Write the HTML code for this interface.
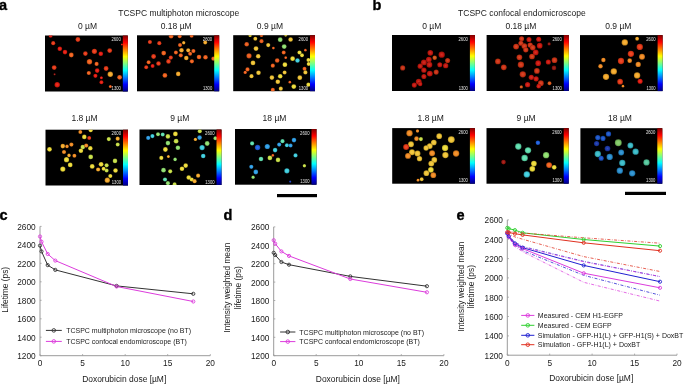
<!DOCTYPE html>
<html><head><meta charset="utf-8"><title>Figure</title>
<style>html,body{margin:0;padding:0;background:#fff;width:685px;height:384px;overflow:hidden}svg{display:block;will-change:transform}</style>
</head><body>
<svg width="685" height="384" viewBox="0 0 685 384" font-family='"Liberation Sans", sans-serif'>
<defs>
<linearGradient id="jet" x1="0" y1="0" x2="0" y2="1">
<stop offset="0" stop-color="#800000"/>
<stop offset="0.125" stop-color="#ff0000"/>
<stop offset="0.25" stop-color="#ff8000"/>
<stop offset="0.375" stop-color="#ffff00"/>
<stop offset="0.5" stop-color="#80ff80"/>
<stop offset="0.625" stop-color="#00ffff"/>
<stop offset="0.75" stop-color="#0080ff"/>
<stop offset="0.875" stop-color="#0000ff"/>
<stop offset="1" stop-color="#000080"/>
</linearGradient>
<radialGradient id="g1c39ac"><stop offset="0" stop-color="#3750b5"/><stop offset="0.6" stop-color="#1c39ac"/><stop offset="1" stop-color="#14297b"/></radialGradient>
<radialGradient id="g1c56c9"><stop offset="0" stop-color="#376acf"/><stop offset="0.6" stop-color="#1c56c9"/><stop offset="1" stop-color="#143d90"/></radialGradient>
<radialGradient id="g2040c0"><stop offset="0" stop-color="#3a56c7"/><stop offset="0.6" stop-color="#2040c0"/><stop offset="1" stop-color="#172e8a"/></radialGradient>
<radialGradient id="g2060e0"><stop offset="0" stop-color="#3a73e3"/><stop offset="0.6" stop-color="#2060e0"/><stop offset="1" stop-color="#1745a1"/></radialGradient>
<radialGradient id="g2b90d0"><stop offset="0" stop-color="#449dd5"/><stop offset="0.6" stop-color="#2b90d0"/><stop offset="1" stop-color="#1e6795"/></radialGradient>
<radialGradient id="g30a0e8"><stop offset="0" stop-color="#48abea"/><stop offset="0.6" stop-color="#30a0e8"/><stop offset="1" stop-color="#2273a7"/></radialGradient>
<radialGradient id="g39bbc9"><stop offset="0" stop-color="#50c3cf"/><stop offset="0.6" stop-color="#39bbc9"/><stop offset="1" stop-color="#298690"/></radialGradient>
<radialGradient id="g40d0e0"><stop offset="0" stop-color="#56d5e3"/><stop offset="0.6" stop-color="#40d0e0"/><stop offset="1" stop-color="#2e95a1"/></radialGradient>
<radialGradient id="g56c99e"><stop offset="0" stop-color="#6acfa9"/><stop offset="0.6" stop-color="#56c99e"/><stop offset="1" stop-color="#3d9071"/></radialGradient>
<radialGradient id="g60e0b0"><stop offset="0" stop-color="#73e3b9"/><stop offset="0.6" stop-color="#60e0b0"/><stop offset="1" stop-color="#45a17e"/></radialGradient>
<radialGradient id="g81c964"><stop offset="0" stop-color="#90cf76"/><stop offset="0.6" stop-color="#81c964"/><stop offset="1" stop-color="#5c9048"/></radialGradient>
<radialGradient id="g90150e"><stop offset="0" stop-color="#9d312a"/><stop offset="0.6" stop-color="#90150e"/><stop offset="1" stop-color="#670f0a"/></radialGradient>
<radialGradient id="g90e070"><stop offset="0" stop-color="#9de381"/><stop offset="0.6" stop-color="#90e070"/><stop offset="1" stop-color="#67a150"/></radialGradient>
<radialGradient id="ga01810"><stop offset="0" stop-color="#ab332c"/><stop offset="0.6" stop-color="#a01810"/><stop offset="1" stop-color="#73110b"/></radialGradient>
<radialGradient id="gc4180f"><stop offset="0" stop-color="#cb332b"/><stop offset="0.6" stop-color="#c4180f"/><stop offset="1" stop-color="#8d110a"/></radialGradient>
<radialGradient id="gc73114"><stop offset="0" stop-color="#cd4930"/><stop offset="0.6" stop-color="#c73114"/><stop offset="1" stop-color="#8f230e"/></radialGradient>
<radialGradient id="gc8e048"><stop offset="0" stop-color="#cee35d"/><stop offset="0.6" stop-color="#c8e048"/><stop offset="1" stop-color="#90a133"/></radialGradient>
<radialGradient id="gcd1910"><stop offset="0" stop-color="#d3342c"/><stop offset="0.6" stop-color="#cd1910"/><stop offset="1" stop-color="#93120b"/></radialGradient>
<radialGradient id="gd03415"><stop offset="0" stop-color="#d54c31"/><stop offset="0.6" stop-color="#d03415"/><stop offset="1" stop-color="#95250f"/></radialGradient>
<radialGradient id="gd05419"><stop offset="0" stop-color="#d56834"/><stop offset="0.6" stop-color="#d05419"/><stop offset="1" stop-color="#953c12"/></radialGradient>
<radialGradient id="gd9581b"><stop offset="0" stop-color="#dd6c36"/><stop offset="0.6" stop-color="#d9581b"/><stop offset="1" stop-color="#9c3f13"/></radialGradient>
<radialGradient id="ge41c12"><stop offset="0" stop-color="#e7372e"/><stop offset="0.6" stop-color="#e41c12"/><stop offset="1" stop-color="#a4140c"/></radialGradient>
<radialGradient id="ge83a18"><stop offset="0" stop-color="#ea5133"/><stop offset="0.6" stop-color="#e83a18"/><stop offset="1" stop-color="#a72911"/></radialGradient>
<radialGradient id="gea5c1e"><stop offset="0" stop-color="#ec6f39"/><stop offset="0.6" stop-color="#ea5c1e"/><stop offset="1" stop-color="#a84215"/></radialGradient>
<radialGradient id="geedc3a"><stop offset="0" stop-color="#f0e051"/><stop offset="0.6" stop-color="#eedc3a"/><stop offset="1" stop-color="#ab9e29"/></radialGradient>
<radialGradient id="gf0c436"><stop offset="0" stop-color="#f1cb4e"/><stop offset="0.6" stop-color="#f0c436"/><stop offset="1" stop-color="#ac8d26"/></radialGradient>
<radialGradient id="gf2621e"><stop offset="0" stop-color="#f37439"/><stop offset="0.6" stop-color="#f2621e"/><stop offset="1" stop-color="#ae4615"/></radialGradient>
<radialGradient id="gf28c24"><stop offset="0" stop-color="#f3993e"/><stop offset="0.6" stop-color="#f28c24"/><stop offset="1" stop-color="#ae6419"/></radialGradient>
<radialGradient id="gf5aa2c"><stop offset="0" stop-color="#f6b445"/><stop offset="0.6" stop-color="#f5aa2c"/><stop offset="1" stop-color="#b07a1f"/></radialGradient>
<filter id="blur" x="-20%" y="-20%" width="140%" height="140%"><feGaussianBlur stdDeviation="0.55"/></filter>
</defs>
<style>
text{font-family:"Liberation Sans",sans-serif}
.cb{font-size:4.6px;fill:#e4e4e4;text-anchor:end}
.lab{font-size:8.5px;fill:#1a1a1a;text-anchor:middle}
</style>
<rect width="685" height="384" fill="#fff"/>
<rect x="45.0" y="35.5" width="82.8" height="56.0" fill="#000"/>
<clipPath id="cpa1"><rect x="45.0" y="35.5" width="82.8" height="56.0"/></clipPath>
<g clip-path="url(#cpa1)"><g filter="url(#blur)">
<circle cx="50.6" cy="35.7" r="2.00" fill="url(#ge41c12)"/>
<circle cx="53.2" cy="43.2" r="2.10" fill="url(#ge83a18)"/>
<circle cx="77.9" cy="39.5" r="2.40" fill="url(#ge83a18)"/>
<circle cx="59.8" cy="48.8" r="2.30" fill="url(#ge41c12)"/>
<circle cx="65.0" cy="52.1" r="2.30" fill="url(#ge41c12)"/>
<circle cx="71.3" cy="55.0" r="2.40" fill="url(#gf2621e)"/>
<circle cx="85.4" cy="53.6" r="2.30" fill="url(#ge83a18)"/>
<circle cx="94.4" cy="51.3" r="2.60" fill="url(#ge83a18)"/>
<circle cx="100.8" cy="53.8" r="2.30" fill="url(#ge41c12)"/>
<circle cx="109.7" cy="50.6" r="2.40" fill="url(#ge83a18)"/>
<circle cx="89.5" cy="61.7" r="2.70" fill="url(#gf2621e)"/>
<circle cx="96.6" cy="63.9" r="2.10" fill="url(#gf2621e)"/>
<circle cx="54.2" cy="67.6" r="2.40" fill="url(#ge83a18)"/>
<circle cx="54.6" cy="74.3" r="1.10" fill="url(#ga01810)"/>
<circle cx="97.2" cy="70.6" r="2.30" fill="url(#ge41c12)"/>
<circle cx="106.1" cy="68.5" r="2.40" fill="url(#ge83a18)"/>
<circle cx="88.8" cy="73.0" r="2.10" fill="url(#gf2621e)"/>
<circle cx="95.4" cy="75.8" r="2.10" fill="url(#ge41c12)"/>
<circle cx="110.3" cy="74.3" r="2.70" fill="url(#gf5aa2c)"/>
<circle cx="119.6" cy="77.3" r="2.40" fill="url(#gf2621e)"/>
<circle cx="101.4" cy="77.7" r="1.50" fill="url(#ge41c12)"/>
<circle cx="101.4" cy="82.2" r="2.00" fill="url(#ge41c12)"/>
<circle cx="57.2" cy="84.7" r="2.70" fill="url(#ge41c12)"/>
<circle cx="110.3" cy="86.5" r="1.50" fill="url(#gf2621e)"/>
<circle cx="121.9" cy="44.6" r="1.00" fill="url(#ge41c12)"/>
</g></g>
<rect x="122.8" y="35.5" width="5.0" height="56.0" fill="url(#jet)"/>
<text x="120.8" y="41.1" class="cb" textLength="9.4" lengthAdjust="spacingAndGlyphs">2600</text>
<text x="120.8" y="90.1" class="cb" textLength="9.2" lengthAdjust="spacingAndGlyphs">1300</text>
<rect x="137.0" y="35.3" width="82.2" height="56.0" fill="#000"/>
<clipPath id="cpa2"><rect x="137.0" y="35.3" width="82.2" height="56.0"/></clipPath>
<g clip-path="url(#cpa2)"><g filter="url(#blur)">
<circle cx="171.1" cy="36.2" r="2.30" fill="url(#gf2621e)"/>
<circle cx="179.7" cy="36.2" r="2.00" fill="url(#gf2621e)"/>
<circle cx="191.6" cy="35.7" r="2.00" fill="url(#gf2621e)"/>
<circle cx="149.9" cy="42.0" r="2.10" fill="url(#ge83a18)"/>
<circle cx="159.3" cy="43.2" r="2.10" fill="url(#ge83a18)"/>
<circle cx="180.0" cy="45.1" r="2.00" fill="url(#gf2621e)"/>
<circle cx="183.7" cy="42.7" r="1.70" fill="url(#gf5aa2c)"/>
<circle cx="205.2" cy="42.4" r="2.00" fill="url(#gf5aa2c)"/>
<circle cx="163.7" cy="53.1" r="2.40" fill="url(#gf2621e)"/>
<circle cx="175.9" cy="52.4" r="2.00" fill="url(#gf2621e)"/>
<circle cx="181.5" cy="50.3" r="2.30" fill="url(#gf5aa2c)"/>
<circle cx="188.2" cy="50.3" r="2.10" fill="url(#gf5aa2c)"/>
<circle cx="193.4" cy="51.0" r="2.10" fill="url(#gf2621e)"/>
<circle cx="190.1" cy="53.8" r="2.00" fill="url(#gf2621e)"/>
<circle cx="153.6" cy="56.5" r="2.40" fill="url(#ge83a18)"/>
<circle cx="170.8" cy="57.6" r="2.10" fill="url(#ge83a18)"/>
<circle cx="180.8" cy="55.3" r="2.10" fill="url(#gf2621e)"/>
<circle cx="186.3" cy="58.0" r="2.30" fill="url(#gf5aa2c)"/>
<circle cx="199.0" cy="57.0" r="2.30" fill="url(#gf2621e)"/>
<circle cx="205.5" cy="57.3" r="2.30" fill="url(#gf2621e)"/>
<circle cx="213.4" cy="58.7" r="2.10" fill="url(#gf2621e)"/>
<circle cx="148.6" cy="62.2" r="2.00" fill="url(#gf2621e)"/>
<circle cx="158.5" cy="63.5" r="2.30" fill="url(#ge83a18)"/>
<circle cx="168.5" cy="61.4" r="2.30" fill="url(#ge83a18)"/>
<circle cx="191.9" cy="61.3" r="2.10" fill="url(#gf2621e)"/>
<circle cx="152.6" cy="65.9" r="2.00" fill="url(#ge41c12)"/>
<circle cx="146.2" cy="67.2" r="2.00" fill="url(#ge83a18)"/>
<circle cx="164.9" cy="75.4" r="2.40" fill="url(#gf2621e)"/>
<circle cx="178.2" cy="73.9" r="2.30" fill="url(#gf5aa2c)"/>
</g></g>
<rect x="214.2" y="35.3" width="5.0" height="56.0" fill="url(#jet)"/>
<text x="212.2" y="40.9" class="cb" textLength="9.4" lengthAdjust="spacingAndGlyphs">2600</text>
<text x="212.2" y="89.9" class="cb" textLength="9.2" lengthAdjust="spacingAndGlyphs">1300</text>
<rect x="233.2" y="35.2" width="81.8" height="56.0" fill="#000"/>
<clipPath id="cpa3"><rect x="233.2" y="35.2" width="81.8" height="56.0"/></clipPath>
<g clip-path="url(#cpa3)"><g filter="url(#blur)">
<circle cx="250.1" cy="35.4" r="1.70" fill="url(#geedc3a)"/>
<circle cx="261.5" cy="35.4" r="1.70" fill="url(#gf2621e)"/>
<circle cx="285.7" cy="35.3" r="1.40" fill="url(#geedc3a)"/>
<circle cx="255.3" cy="38.7" r="2.00" fill="url(#gf0c436)"/>
<circle cx="261.5" cy="41.2" r="2.10" fill="url(#gea5c1e)"/>
<circle cx="280.2" cy="39.7" r="2.40" fill="url(#g90e070)"/>
<circle cx="290.6" cy="39.5" r="2.30" fill="url(#gf0c436)"/>
<circle cx="246.7" cy="44.2" r="2.30" fill="url(#gea5c1e)"/>
<circle cx="268.2" cy="45.1" r="2.10" fill="url(#gf0c436)"/>
<circle cx="284.2" cy="46.6" r="2.40" fill="url(#g90e070)"/>
<circle cx="273.4" cy="48.1" r="1.40" fill="url(#gf2621e)"/>
<circle cx="256.0" cy="48.6" r="2.40" fill="url(#gf0c436)"/>
<circle cx="283.7" cy="52.5" r="2.00" fill="url(#gf2621e)"/>
<circle cx="305.4" cy="50.2" r="1.40" fill="url(#gea5c1e)"/>
<circle cx="299.5" cy="52.5" r="2.10" fill="url(#geedc3a)"/>
<circle cx="302.0" cy="55.3" r="2.00" fill="url(#geedc3a)"/>
<circle cx="249.0" cy="55.8" r="2.60" fill="url(#gea5c1e)"/>
<circle cx="258.2" cy="56.2" r="2.30" fill="url(#gf0c436)"/>
<circle cx="285.7" cy="57.7" r="1.40" fill="url(#gf2621e)"/>
<circle cx="292.6" cy="58.7" r="2.40" fill="url(#geedc3a)"/>
<circle cx="297.5" cy="60.5" r="2.30" fill="url(#g40d0e0)"/>
<circle cx="277.2" cy="60.5" r="2.30" fill="url(#gea5c1e)"/>
<circle cx="308.4" cy="59.9" r="2.00" fill="url(#geedc3a)"/>
<circle cx="253.0" cy="62.9" r="2.40" fill="url(#gf0c436)"/>
<circle cx="284.9" cy="64.7" r="2.40" fill="url(#geedc3a)"/>
<circle cx="272.8" cy="65.7" r="2.10" fill="url(#gf2621e)"/>
<circle cx="308.7" cy="63.9" r="2.00" fill="url(#geedc3a)"/>
<circle cx="247.5" cy="69.4" r="2.10" fill="url(#gf2621e)"/>
<circle cx="245.2" cy="72.4" r="1.70" fill="url(#gf2621e)"/>
<circle cx="258.5" cy="72.8" r="2.30" fill="url(#gf0c436)"/>
<circle cx="284.6" cy="72.4" r="2.00" fill="url(#gf0c436)"/>
<circle cx="304.5" cy="68.8" r="2.00" fill="url(#gf2621e)"/>
<circle cx="305.4" cy="72.4" r="2.10" fill="url(#gf0c436)"/>
<circle cx="251.5" cy="76.2" r="2.10" fill="url(#gf0c436)"/>
<circle cx="271.9" cy="77.6" r="2.30" fill="url(#gf0c436)"/>
<circle cx="280.2" cy="76.2" r="2.30" fill="url(#geedc3a)"/>
<circle cx="299.8" cy="77.7" r="2.40" fill="url(#gf0c436)"/>
<circle cx="277.8" cy="81.7" r="2.30" fill="url(#gf0c436)"/>
<circle cx="289.8" cy="82.2" r="1.40" fill="url(#gf2621e)"/>
<circle cx="293.8" cy="86.6" r="2.40" fill="url(#geedc3a)"/>
<circle cx="308.4" cy="84.7" r="2.10" fill="url(#geedc3a)"/>
<circle cx="272.8" cy="89.9" r="2.10" fill="url(#gf2621e)"/>
<circle cx="280.8" cy="88.7" r="2.10" fill="url(#gf0c436)"/>
</g></g>
<rect x="310.0" y="35.2" width="5.0" height="56.0" fill="url(#jet)"/>
<text x="308.0" y="40.8" class="cb" textLength="9.4" lengthAdjust="spacingAndGlyphs">2600</text>
<text x="308.0" y="89.8" class="cb" textLength="9.2" lengthAdjust="spacingAndGlyphs">1300</text>
<rect x="45.5" y="129.7" width="82.5" height="55.8" fill="#000"/>
<clipPath id="cpa4"><rect x="45.5" y="129.7" width="82.5" height="55.8"/></clipPath>
<g clip-path="url(#cpa4)"><g filter="url(#blur)">
<circle cx="80.3" cy="132.0" r="2.00" fill="url(#gf28c24)"/>
<circle cx="90.7" cy="130.2" r="2.10" fill="url(#geedc3a)"/>
<circle cx="84.3" cy="136.9" r="2.30" fill="url(#geedc3a)"/>
<circle cx="89.2" cy="137.9" r="2.00" fill="url(#ge83a18)"/>
<circle cx="108.8" cy="139.1" r="2.10" fill="url(#gc8e048)"/>
<circle cx="117.7" cy="138.7" r="2.10" fill="url(#gf5aa2c)"/>
<circle cx="49.5" cy="149.3" r="2.40" fill="url(#geedc3a)"/>
<circle cx="62.8" cy="146.1" r="2.30" fill="url(#gf5aa2c)"/>
<circle cx="67.0" cy="146.4" r="1.80" fill="url(#gf28c24)"/>
<circle cx="71.4" cy="144.6" r="2.10" fill="url(#gf28c24)"/>
<circle cx="82.8" cy="147.1" r="2.30" fill="url(#gc8e048)"/>
<circle cx="86.2" cy="145.6" r="2.10" fill="url(#gf28c24)"/>
<circle cx="80.9" cy="150.8" r="2.30" fill="url(#geedc3a)"/>
<circle cx="90.3" cy="148.3" r="2.30" fill="url(#geedc3a)"/>
<circle cx="117.7" cy="144.6" r="2.00" fill="url(#gc8e048)"/>
<circle cx="64.0" cy="152.0" r="2.10" fill="url(#gf28c24)"/>
<circle cx="69.0" cy="155.4" r="1.80" fill="url(#gf5aa2c)"/>
<circle cx="74.4" cy="155.7" r="2.00" fill="url(#gf28c24)"/>
<circle cx="90.7" cy="156.9" r="2.40" fill="url(#gc8e048)"/>
<circle cx="66.5" cy="159.7" r="2.60" fill="url(#geedc3a)"/>
<circle cx="115.0" cy="160.9" r="2.30" fill="url(#gc8e048)"/>
<circle cx="70.2" cy="164.9" r="2.40" fill="url(#geedc3a)"/>
<circle cx="92.2" cy="166.4" r="2.40" fill="url(#geedc3a)"/>
<circle cx="101.1" cy="164.3" r="2.40" fill="url(#geedc3a)"/>
<circle cx="106.6" cy="165.3" r="2.10" fill="url(#gc8e048)"/>
<circle cx="62.8" cy="169.1" r="2.60" fill="url(#geedc3a)"/>
<circle cx="98.1" cy="169.5" r="2.10" fill="url(#gf5aa2c)"/>
<circle cx="103.6" cy="168.8" r="2.00" fill="url(#geedc3a)"/>
<circle cx="106.6" cy="170.5" r="2.00" fill="url(#gc8e048)"/>
<circle cx="115.5" cy="170.5" r="2.30" fill="url(#geedc3a)"/>
<circle cx="110.3" cy="176.0" r="2.10" fill="url(#geedc3a)"/>
<circle cx="107.3" cy="180.2" r="2.60" fill="url(#gf5aa2c)"/>
</g></g>
<rect x="123.0" y="129.7" width="5.0" height="55.8" fill="url(#jet)"/>
<text x="121.0" y="135.3" class="cb" textLength="9.4" lengthAdjust="spacingAndGlyphs">2600</text>
<text x="121.0" y="184.1" class="cb" textLength="9.2" lengthAdjust="spacingAndGlyphs">1300</text>
<rect x="139.5" y="129.5" width="82.0" height="55.5" fill="#000"/>
<clipPath id="cpa5"><rect x="139.5" y="129.5" width="82.0" height="55.5"/></clipPath>
<g clip-path="url(#cpa5)"><g filter="url(#blur)">
<circle cx="148.2" cy="137.9" r="2.10" fill="url(#g30a0e8)"/>
<circle cx="152.4" cy="136.1" r="2.10" fill="url(#g40d0e0)"/>
<circle cx="158.0" cy="134.2" r="2.00" fill="url(#g90e070)"/>
<circle cx="162.7" cy="134.5" r="2.00" fill="url(#g60e0b0)"/>
<circle cx="167.9" cy="136.4" r="2.30" fill="url(#gc8e048)"/>
<circle cx="175.4" cy="133.9" r="2.40" fill="url(#geedc3a)"/>
<circle cx="199.8" cy="131.2" r="2.10" fill="url(#gc8e048)"/>
<circle cx="195.4" cy="139.4" r="1.70" fill="url(#gf5aa2c)"/>
<circle cx="199.6" cy="137.6" r="2.30" fill="url(#g30a0e8)"/>
<circle cx="215.4" cy="138.2" r="2.00" fill="url(#g90e070)"/>
<circle cx="167.9" cy="143.1" r="2.30" fill="url(#g90e070)"/>
<circle cx="176.1" cy="141.2" r="2.40" fill="url(#gc8e048)"/>
<circle cx="207.2" cy="143.5" r="2.40" fill="url(#g90e070)"/>
<circle cx="202.1" cy="147.6" r="2.60" fill="url(#g40d0e0)"/>
<circle cx="177.9" cy="147.8" r="2.30" fill="url(#g90e070)"/>
<circle cx="165.4" cy="149.5" r="2.40" fill="url(#geedc3a)"/>
<circle cx="161.3" cy="157.9" r="2.10" fill="url(#geedc3a)"/>
<circle cx="168.4" cy="156.5" r="1.50" fill="url(#gf5aa2c)"/>
<circle cx="175.1" cy="159.4" r="1.80" fill="url(#g90e070)"/>
<circle cx="203.2" cy="156.0" r="2.30" fill="url(#g40d0e0)"/>
<circle cx="185.7" cy="165.6" r="2.30" fill="url(#geedc3a)"/>
<circle cx="182.0" cy="168.8" r="2.30" fill="url(#geedc3a)"/>
<circle cx="163.5" cy="170.2" r="2.40" fill="url(#g90e070)"/>
<circle cx="170.2" cy="171.3" r="2.10" fill="url(#gc8e048)"/>
<circle cx="198.1" cy="175.7" r="2.10" fill="url(#gf5aa2c)"/>
<circle cx="188.7" cy="177.5" r="2.30" fill="url(#geedc3a)"/>
<circle cx="191.7" cy="179.5" r="2.10" fill="url(#geedc3a)"/>
<circle cx="194.6" cy="181.2" r="2.10" fill="url(#gf5aa2c)"/>
<circle cx="165.0" cy="179.5" r="2.10" fill="url(#g60e0b0)"/>
<circle cx="167.9" cy="183.2" r="2.10" fill="url(#g90e070)"/>
<circle cx="174.6" cy="184.2" r="2.00" fill="url(#gc8e048)"/>
</g></g>
<rect x="216.5" y="129.5" width="5.0" height="55.5" fill="url(#jet)"/>
<text x="214.5" y="135.1" class="cb" textLength="9.4" lengthAdjust="spacingAndGlyphs">2600</text>
<text x="214.5" y="183.6" class="cb" textLength="9.2" lengthAdjust="spacingAndGlyphs">1300</text>
<rect x="235.0" y="129.0" width="81.5" height="55.7" fill="#000"/>
<clipPath id="cpa6"><rect x="235.0" y="129.0" width="81.5" height="55.7"/></clipPath>
<g clip-path="url(#cpa6)"><g filter="url(#blur)">
<circle cx="252.1" cy="143.4" r="2.10" fill="url(#g60e0b0)"/>
<circle cx="257.6" cy="147.5" r="2.70" fill="url(#g2060e0)"/>
<circle cx="267.3" cy="146.5" r="2.60" fill="url(#g30a0e8)"/>
<circle cx="275.1" cy="150.1" r="2.30" fill="url(#g40d0e0)"/>
<circle cx="279.2" cy="144.6" r="2.10" fill="url(#g30a0e8)"/>
<circle cx="282.5" cy="141.2" r="2.10" fill="url(#g60e0b0)"/>
<circle cx="286.9" cy="145.3" r="2.00" fill="url(#g40d0e0)"/>
<circle cx="290.6" cy="145.6" r="2.00" fill="url(#g30a0e8)"/>
<circle cx="294.0" cy="140.1" r="2.30" fill="url(#g30a0e8)"/>
<circle cx="295.5" cy="155.4" r="2.10" fill="url(#g40d0e0)"/>
<circle cx="261.0" cy="159.0" r="2.30" fill="url(#g60e0b0)"/>
<circle cx="269.9" cy="157.9" r="2.40" fill="url(#gc8e048)"/>
<circle cx="272.8" cy="155.4" r="1.40" fill="url(#gf2621e)"/>
<circle cx="278.0" cy="159.9" r="2.30" fill="url(#gc8e048)"/>
<circle cx="251.3" cy="166.8" r="2.10" fill="url(#g30a0e8)"/>
<circle cx="255.8" cy="172.0" r="2.40" fill="url(#g30a0e8)"/>
<circle cx="286.9" cy="170.8" r="2.60" fill="url(#g40d0e0)"/>
<circle cx="304.4" cy="165.8" r="1.70" fill="url(#gc8e048)"/>
<circle cx="253.1" cy="177.2" r="1.70" fill="url(#g90e070)"/>
<circle cx="290.2" cy="181.7" r="1.10" fill="url(#g2040c0)"/>
</g></g>
<rect x="311.5" y="129.0" width="5.0" height="55.7" fill="url(#jet)"/>
<text x="309.5" y="134.6" class="cb" textLength="9.4" lengthAdjust="spacingAndGlyphs">2600</text>
<text x="309.5" y="183.3" class="cb" textLength="9.2" lengthAdjust="spacingAndGlyphs">1300</text>
<rect x="392.0" y="35.0" width="82.9" height="56.0" fill="#000"/>
<clipPath id="cpb1"><rect x="392.0" y="35.0" width="82.9" height="56.0"/></clipPath>
<g clip-path="url(#cpb1)"><g filter="url(#blur)">
<circle cx="430.3" cy="52.8" r="2.85" fill="url(#gc4180f)"/>
<circle cx="434.7" cy="57.7" r="2.25" fill="url(#gd05419)"/>
<circle cx="441.7" cy="54.7" r="3.15" fill="url(#gc4180f)"/>
<circle cx="447.6" cy="60.5" r="2.55" fill="url(#gc73114)"/>
<circle cx="445.7" cy="65.7" r="2.65" fill="url(#gc4180f)"/>
<circle cx="439.8" cy="64.7" r="2.55" fill="url(#gc4180f)"/>
<circle cx="428.8" cy="59.5" r="2.85" fill="url(#gc4180f)"/>
<circle cx="429.4" cy="64.7" r="2.95" fill="url(#gc4180f)"/>
<circle cx="423.9" cy="62.4" r="2.95" fill="url(#gc4180f)"/>
<circle cx="420.2" cy="66.2" r="2.65" fill="url(#gc4180f)"/>
<circle cx="423.9" cy="70.2" r="2.65" fill="url(#gc4180f)"/>
<circle cx="429.8" cy="73.6" r="2.95" fill="url(#gc4180f)"/>
<circle cx="436.2" cy="72.1" r="2.55" fill="url(#gc73114)"/>
<circle cx="423.9" cy="76.5" r="2.55" fill="url(#gc4180f)"/>
<circle cx="402.7" cy="67.9" r="2.55" fill="url(#gc73114)"/>
<circle cx="418.7" cy="81.7" r="2.95" fill="url(#gc4180f)"/>
<circle cx="414.3" cy="85.1" r="2.55" fill="url(#gc4180f)"/>
<circle cx="420.2" cy="84.0" r="2.25" fill="url(#gc4180f)"/>
</g></g>
<rect x="469.9" y="35.0" width="5.0" height="56.0" fill="url(#jet)"/>
<text x="467.9" y="40.6" class="cb" textLength="9.4" lengthAdjust="spacingAndGlyphs">2600</text>
<text x="467.9" y="89.6" class="cb" textLength="9.2" lengthAdjust="spacingAndGlyphs">1300</text>
<rect x="486.6" y="35.0" width="82.2" height="56.0" fill="#000"/>
<clipPath id="cpb2"><rect x="486.6" y="35.0" width="82.2" height="56.0"/></clipPath>
<g clip-path="url(#cpb2)"><g filter="url(#blur)">
<circle cx="521.6" cy="38.7" r="2.55" fill="url(#gd03415)"/>
<circle cx="529.0" cy="39.5" r="2.55" fill="url(#gcd1910)"/>
<circle cx="538.7" cy="39.2" r="2.55" fill="url(#gcd1910)"/>
<circle cx="516.1" cy="46.6" r="2.95" fill="url(#gd03415)"/>
<circle cx="520.9" cy="43.2" r="2.55" fill="url(#gd03415)"/>
<circle cx="524.3" cy="46.1" r="2.85" fill="url(#gd03415)"/>
<circle cx="525.8" cy="49.8" r="2.65" fill="url(#gd03415)"/>
<circle cx="530.2" cy="45.1" r="2.65" fill="url(#gd03415)"/>
<circle cx="532.7" cy="47.6" r="2.85" fill="url(#gd03415)"/>
<circle cx="539.7" cy="45.7" r="2.85" fill="url(#gcd1910)"/>
<circle cx="549.1" cy="43.9" r="1.65" fill="url(#g90150e)"/>
<circle cx="535.7" cy="52.4" r="2.85" fill="url(#gcd1910)"/>
<circle cx="532.0" cy="56.5" r="2.85" fill="url(#gd03415)"/>
<circle cx="519.4" cy="57.3" r="2.85" fill="url(#gd03415)"/>
<circle cx="497.9" cy="61.4" r="2.85" fill="url(#gd03415)"/>
<circle cx="503.8" cy="67.3" r="2.85" fill="url(#gd03415)"/>
<circle cx="520.9" cy="64.7" r="3.15" fill="url(#gd03415)"/>
<circle cx="538.2" cy="63.2" r="2.85" fill="url(#gcd1910)"/>
<circle cx="548.3" cy="62.0" r="2.55" fill="url(#gcd1910)"/>
<circle cx="554.5" cy="60.2" r="2.85" fill="url(#gd03415)"/>
<circle cx="554.0" cy="67.9" r="2.35" fill="url(#g90150e)"/>
<circle cx="536.9" cy="70.9" r="2.85" fill="url(#gd03415)"/>
<circle cx="522.8" cy="74.3" r="3.15" fill="url(#gd03415)"/>
<circle cx="531.3" cy="77.3" r="2.65" fill="url(#gcd1910)"/>
<circle cx="536.1" cy="78.8" r="2.65" fill="url(#gcd1910)"/>
<circle cx="527.6" cy="84.7" r="2.65" fill="url(#gcd1910)"/>
<circle cx="540.9" cy="83.2" r="2.85" fill="url(#gd03415)"/>
<circle cx="538.7" cy="86.2" r="2.35" fill="url(#gcd1910)"/>
<circle cx="549.5" cy="83.2" r="1.95" fill="url(#gd9581b)"/>
<circle cx="521.3" cy="86.9" r="1.65" fill="url(#gd9581b)"/>
</g></g>
<rect x="563.8" y="35.0" width="5.0" height="56.0" fill="url(#jet)"/>
<text x="561.8" y="40.6" class="cb" textLength="9.4" lengthAdjust="spacingAndGlyphs">2600</text>
<text x="561.8" y="89.6" class="cb" textLength="9.2" lengthAdjust="spacingAndGlyphs">1300</text>
<rect x="580.0" y="35.1" width="82.6" height="56.0" fill="#000"/>
<clipPath id="cpb3"><rect x="580.0" y="35.1" width="82.6" height="56.0"/></clipPath>
<g clip-path="url(#cpb3)"><g filter="url(#blur)">
<circle cx="637.1" cy="38.7" r="1.95" fill="url(#gf5aa2c)"/>
<circle cx="624.8" cy="42.4" r="3.15" fill="url(#gf5aa2c)"/>
<circle cx="639.8" cy="46.9" r="3.15" fill="url(#ge83a18)"/>
<circle cx="630.9" cy="53.8" r="3.15" fill="url(#ge83a18)"/>
<circle cx="642.0" cy="56.8" r="2.95" fill="url(#gf28c24)"/>
<circle cx="603.4" cy="59.9" r="2.25" fill="url(#gf28c24)"/>
<circle cx="621.0" cy="61.0" r="3.15" fill="url(#ge83a18)"/>
<circle cx="629.7" cy="60.7" r="2.35" fill="url(#gf28c24)"/>
<circle cx="638.2" cy="64.4" r="2.65" fill="url(#gf28c24)"/>
<circle cx="600.5" cy="66.2" r="2.25" fill="url(#gf28c24)"/>
<circle cx="613.8" cy="71.4" r="3.15" fill="url(#gf5aa2c)"/>
<circle cx="637.1" cy="75.4" r="3.15" fill="url(#gf5aa2c)"/>
<circle cx="606.0" cy="76.8" r="3.15" fill="url(#gf5aa2c)"/>
<circle cx="620.1" cy="81.7" r="2.85" fill="url(#ge83a18)"/>
<circle cx="640.1" cy="81.3" r="2.55" fill="url(#ge41c12)"/>
<circle cx="623.0" cy="86.2" r="1.35" fill="url(#gf28c24)"/>
</g></g>
<rect x="657.6" y="35.1" width="5.0" height="56.0" fill="url(#jet)"/>
<text x="655.6" y="40.7" class="cb" textLength="9.4" lengthAdjust="spacingAndGlyphs">2600</text>
<text x="655.6" y="89.7" class="cb" textLength="9.2" lengthAdjust="spacingAndGlyphs">1300</text>
<rect x="392.2" y="128.1" width="82.7" height="55.6" fill="#000"/>
<clipPath id="cpb4"><rect x="392.2" y="128.1" width="82.7" height="55.6"/></clipPath>
<g clip-path="url(#cpb4)"><g filter="url(#blur)">
<circle cx="409.5" cy="133.2" r="3.15" fill="url(#gf28c24)"/>
<circle cx="417.5" cy="131.0" r="1.65" fill="url(#gf28c24)"/>
<circle cx="416.5" cy="138.7" r="2.35" fill="url(#gf28c24)"/>
<circle cx="420.9" cy="139.1" r="2.05" fill="url(#gc8e048)"/>
<circle cx="439.2" cy="136.2" r="2.85" fill="url(#gf0c436)"/>
<circle cx="451.3" cy="139.6" r="3.45" fill="url(#gf0c436)"/>
<circle cx="411.0" cy="144.3" r="2.95" fill="url(#gf0c436)"/>
<circle cx="406.1" cy="147.0" r="2.95" fill="url(#ge83a18)"/>
<circle cx="433.8" cy="142.5" r="2.85" fill="url(#gf0c436)"/>
<circle cx="429.8" cy="146.1" r="2.85" fill="url(#gf0c436)"/>
<circle cx="426.1" cy="148.0" r="2.65" fill="url(#gf0c436)"/>
<circle cx="445.1" cy="148.0" r="3.15" fill="url(#geedc3a)"/>
<circle cx="412.0" cy="152.2" r="2.95" fill="url(#gf0c436)"/>
<circle cx="417.5" cy="153.5" r="2.95" fill="url(#gf0c436)"/>
<circle cx="432.1" cy="153.2" r="2.95" fill="url(#gf28c24)"/>
<circle cx="445.4" cy="155.1" r="3.15" fill="url(#gf0c436)"/>
<circle cx="456.1" cy="153.5" r="3.15" fill="url(#gf28c24)"/>
<circle cx="408.0" cy="155.9" r="2.95" fill="url(#gf28c24)"/>
<circle cx="419.5" cy="158.7" r="2.65" fill="url(#gf0c436)"/>
<circle cx="434.3" cy="159.9" r="2.85" fill="url(#gf0c436)"/>
<circle cx="431.3" cy="163.6" r="2.95" fill="url(#gf0c436)"/>
<circle cx="430.9" cy="169.8" r="2.85" fill="url(#geedc3a)"/>
<circle cx="426.4" cy="173.2" r="2.85" fill="url(#gf0c436)"/>
<circle cx="433.3" cy="175.2" r="2.85" fill="url(#gf28c24)"/>
<circle cx="421.7" cy="179.2" r="1.95" fill="url(#gf0c436)"/>
<circle cx="418.0" cy="180.2" r="1.45" fill="url(#gf28c24)"/>
</g></g>
<rect x="469.9" y="128.1" width="5.0" height="55.6" fill="url(#jet)"/>
<text x="467.9" y="133.7" class="cb" textLength="9.4" lengthAdjust="spacingAndGlyphs">2600</text>
<text x="467.9" y="182.3" class="cb" textLength="9.2" lengthAdjust="spacingAndGlyphs">1300</text>
<rect x="486.5" y="128.1" width="82.2" height="55.6" fill="#000"/>
<clipPath id="cpb5"><rect x="486.5" y="128.1" width="82.2" height="55.6"/></clipPath>
<g clip-path="url(#cpb5)"><g filter="url(#blur)">
<circle cx="518.3" cy="146.5" r="3.15" fill="url(#g60e0b0)"/>
<circle cx="537.9" cy="142.8" r="2.25" fill="url(#g2060e0)"/>
<circle cx="528.0" cy="150.3" r="3.15" fill="url(#g60e0b0)"/>
<circle cx="524.6" cy="158.1" r="3.25" fill="url(#g60e0b0)"/>
<circle cx="546.1" cy="155.2" r="3.15" fill="url(#g90e070)"/>
<circle cx="503.5" cy="162.1" r="2.35" fill="url(#ga01810)"/>
<circle cx="533.9" cy="163.6" r="2.85" fill="url(#geedc3a)"/>
<circle cx="532.3" cy="168.8" r="2.85" fill="url(#geedc3a)"/>
<circle cx="549.1" cy="165.1" r="2.95" fill="url(#gf2621e)"/>
<circle cx="554.2" cy="167.3" r="2.35" fill="url(#geedc3a)"/>
<circle cx="526.8" cy="174.4" r="3.15" fill="url(#g40d0e0)"/>
</g></g>
<rect x="563.7" y="128.1" width="5.0" height="55.6" fill="url(#jet)"/>
<text x="561.7" y="133.7" class="cb" textLength="9.4" lengthAdjust="spacingAndGlyphs">2600</text>
<text x="561.7" y="182.3" class="cb" textLength="9.2" lengthAdjust="spacingAndGlyphs">1300</text>
<rect x="580.4" y="128.2" width="81.9" height="55.5" fill="#000"/>
<clipPath id="cpb6"><rect x="580.4" y="128.2" width="81.9" height="55.5"/></clipPath>
<g clip-path="url(#cpb6)"><g filter="url(#blur)">
<circle cx="608.5" cy="133.9" r="2.65" fill="url(#g1c56c9)"/>
<circle cx="597.8" cy="137.6" r="2.65" fill="url(#g1c56c9)"/>
<circle cx="603.0" cy="138.4" r="2.55" fill="url(#g1c56c9)"/>
<circle cx="596.6" cy="143.6" r="2.65" fill="url(#g1c39ac)"/>
<circle cx="618.3" cy="142.8" r="3.45" fill="url(#g81c964)"/>
<circle cx="630.4" cy="145.5" r="2.95" fill="url(#g39bbc9)"/>
<circle cx="607.5" cy="148.5" r="2.85" fill="url(#g1c39ac)"/>
<circle cx="635.6" cy="151.7" r="3.15" fill="url(#g39bbc9)"/>
<circle cx="621.2" cy="152.5" r="2.95" fill="url(#g2b90d0)"/>
<circle cx="597.8" cy="154.0" r="3.15" fill="url(#g39bbc9)"/>
<circle cx="601.2" cy="158.2" r="2.55" fill="url(#g1c56c9)"/>
<circle cx="609.7" cy="156.9" r="3.15" fill="url(#g2b90d0)"/>
<circle cx="622.3" cy="162.9" r="3.15" fill="url(#g39bbc9)"/>
<circle cx="646.5" cy="162.4" r="3.15" fill="url(#g56c99e)"/>
<circle cx="619.8" cy="170.7" r="3.15" fill="url(#g2b90d0)"/>
<circle cx="632.2" cy="173.3" r="3.15" fill="url(#g2b90d0)"/>
</g></g>
<rect x="657.3" y="128.2" width="5.0" height="55.5" fill="url(#jet)"/>
<text x="655.3" y="133.8" class="cb" textLength="9.4" lengthAdjust="spacingAndGlyphs">2600</text>
<text x="655.3" y="182.3" class="cb" textLength="9.2" lengthAdjust="spacingAndGlyphs">1300</text>
<rect x="277" y="194" width="40" height="3.2" fill="#000"/>
<rect x="625" y="191.8" width="41" height="3.2" fill="#000"/>
<text x="-0.9" y="10.3" font-size="14.5" text-anchor="start" font-weight="bold" fill="#000" stroke="#000" stroke-width="0.35">a</text>
<text x="372.4" y="9.8" font-size="14.5" text-anchor="start" font-weight="bold" fill="#000" stroke="#000" stroke-width="0.35">b</text>
<text x="-0.6" y="219.6" font-size="14.5" text-anchor="start" font-weight="bold" fill="#000" stroke="#000" stroke-width="0.35">c</text>
<text x="223.4" y="219.5" font-size="14.5" text-anchor="start" font-weight="bold" fill="#000" stroke="#000" stroke-width="0.35">d</text>
<text x="456.6" y="219.5" font-size="14.5" text-anchor="start" font-weight="bold" fill="#000" stroke="#000" stroke-width="0.35">e</text>
<text x="178.7" y="15.9" class="lab">TCSPC multiphoton microscope</text>
<text x="521.9" y="15.9" class="lab">TCSPC confocal endomicroscope</text>
<text x="87.5" y="29.0" class="lab">0 µM</text>
<text x="176.2" y="29.0" class="lab">0.18 µM</text>
<text x="269.9" y="29.0" class="lab">0.9 µM</text>
<text x="84.5" y="121.3" class="lab">1.8 µM</text>
<text x="179.8" y="121.3" class="lab">9 µM</text>
<text x="274.5" y="121.3" class="lab">18 µM</text>
<text x="431.8" y="29.0" class="lab">0 µM</text>
<text x="520.9" y="29.0" class="lab">0.18 µM</text>
<text x="618.3" y="29.0" class="lab">0.9 µM</text>
<text x="430.7" y="121.3" class="lab">1.8 µM</text>
<text x="526.1" y="121.3" class="lab">9 µM</text>
<text x="620.0" y="121.3" class="lab">18 µM</text>
<path d="M40.0 226.4 V355.7 H210.3" stroke="#9a9a9a" stroke-width="1" fill="none"/>
<path d="M40.0 355.7 h1.6" stroke="#9a9a9a" stroke-width="0.8"/>
<text x="35.7" y="359.1" font-size="8.3" text-anchor="end" font-weight="normal" fill="#1a1a1a" >1200</text>
<path d="M40.0 337.2 h1.6" stroke="#9a9a9a" stroke-width="0.8"/>
<text x="35.7" y="340.6" font-size="8.3" text-anchor="end" font-weight="normal" fill="#1a1a1a" >1400</text>
<path d="M40.0 318.8 h1.6" stroke="#9a9a9a" stroke-width="0.8"/>
<text x="35.7" y="322.2" font-size="8.3" text-anchor="end" font-weight="normal" fill="#1a1a1a" >1600</text>
<path d="M40.0 300.3 h1.6" stroke="#9a9a9a" stroke-width="0.8"/>
<text x="35.7" y="303.7" font-size="8.3" text-anchor="end" font-weight="normal" fill="#1a1a1a" >1800</text>
<path d="M40.0 281.8 h1.6" stroke="#9a9a9a" stroke-width="0.8"/>
<text x="35.7" y="285.2" font-size="8.3" text-anchor="end" font-weight="normal" fill="#1a1a1a" >2000</text>
<path d="M40.0 263.3 h1.6" stroke="#9a9a9a" stroke-width="0.8"/>
<text x="35.7" y="266.7" font-size="8.3" text-anchor="end" font-weight="normal" fill="#1a1a1a" >2200</text>
<path d="M40.0 244.9 h1.6" stroke="#9a9a9a" stroke-width="0.8"/>
<text x="35.7" y="248.3" font-size="8.3" text-anchor="end" font-weight="normal" fill="#1a1a1a" >2400</text>
<path d="M40.0 226.4 h1.6" stroke="#9a9a9a" stroke-width="0.8"/>
<text x="35.7" y="229.8" font-size="8.3" text-anchor="end" font-weight="normal" fill="#1a1a1a" >2600</text>
<path d="M40.0 355.7 v-1.6" stroke="#9a9a9a" stroke-width="0.8"/>
<text x="40.0" y="366.2" font-size="8.3" text-anchor="middle" font-weight="normal" fill="#1a1a1a" >0</text>
<path d="M82.6 355.7 v-1.6" stroke="#9a9a9a" stroke-width="0.8"/>
<text x="82.6" y="366.2" font-size="8.3" text-anchor="middle" font-weight="normal" fill="#1a1a1a" >5</text>
<path d="M125.2 355.7 v-1.6" stroke="#9a9a9a" stroke-width="0.8"/>
<text x="125.2" y="366.2" font-size="8.3" text-anchor="middle" font-weight="normal" fill="#1a1a1a" >10</text>
<path d="M167.7 355.7 v-1.6" stroke="#9a9a9a" stroke-width="0.8"/>
<text x="167.7" y="366.2" font-size="8.3" text-anchor="middle" font-weight="normal" fill="#1a1a1a" >15</text>
<path d="M210.3 355.7 v-1.6" stroke="#9a9a9a" stroke-width="0.8"/>
<text x="210.3" y="366.2" font-size="8.3" text-anchor="middle" font-weight="normal" fill="#1a1a1a" >20</text>
<text x="124.2" y="381.7" font-size="8.45" text-anchor="middle" font-weight="normal" fill="#1a1a1a" >Doxorubicin dose [µM]</text>
<text x="0" y="0" font-size="8.35" text-anchor="middle" fill="#1a1a1a" transform="translate(8.3,289.8) rotate(-90)">Lifetime (ps)</text>
<polyline points="40.0,245.6 41.5,251.4 47.7,265.1 55.3,269.9 116.6,285.9 193.3,293.8" fill="none" stroke="#333333" stroke-width="1.0"/>
<polyline points="40.0,236.5 41.5,241.7 47.7,254.0 55.3,260.6 116.6,286.5 193.3,301.5" fill="none" stroke="#dc3cdc" stroke-width="1.0"/>
<circle cx="40.0" cy="245.6" r="1.6" fill="none" stroke="#333333" stroke-width="0.9"/>
<circle cx="41.5" cy="251.4" r="1.6" fill="none" stroke="#333333" stroke-width="0.9"/>
<circle cx="47.7" cy="265.1" r="1.6" fill="none" stroke="#333333" stroke-width="0.9"/>
<circle cx="55.3" cy="269.9" r="1.6" fill="none" stroke="#333333" stroke-width="0.9"/>
<circle cx="116.6" cy="285.9" r="1.6" fill="none" stroke="#333333" stroke-width="0.9"/>
<circle cx="193.3" cy="293.8" r="1.6" fill="none" stroke="#333333" stroke-width="0.9"/>
<circle cx="40.0" cy="236.5" r="1.6" fill="none" stroke="#dc3cdc" stroke-width="0.9"/>
<circle cx="41.5" cy="241.7" r="1.6" fill="none" stroke="#dc3cdc" stroke-width="0.9"/>
<circle cx="47.7" cy="254.0" r="1.6" fill="none" stroke="#dc3cdc" stroke-width="0.9"/>
<circle cx="55.3" cy="260.6" r="1.6" fill="none" stroke="#dc3cdc" stroke-width="0.9"/>
<circle cx="116.6" cy="286.5" r="1.6" fill="none" stroke="#dc3cdc" stroke-width="0.9"/>
<circle cx="193.3" cy="301.5" r="1.6" fill="none" stroke="#dc3cdc" stroke-width="0.9"/>
<path d="M45.9 330.4 H61.8" stroke="#333333" stroke-width="1"/>
<circle cx="53.8" cy="330.4" r="1.8" fill="none" stroke="#333333" stroke-width="0.9"/>
<text x="66.2" y="332.9" font-size="7.0" text-anchor="start" font-weight="normal" fill="#1a1a1a" >TCSPC multiphoton microscope (no BT)</text>
<path d="M45.9 341.4 H61.8" stroke="#dc3cdc" stroke-width="1"/>
<circle cx="53.8" cy="341.4" r="1.8" fill="none" stroke="#dc3cdc" stroke-width="0.9"/>
<text x="66.2" y="343.9" font-size="7.0" text-anchor="start" font-weight="normal" fill="#1a1a1a" >TCSPC confocal endomicroscope (BT)</text>
<path d="M273.7 226.9 V355.7 H443.9" stroke="#9a9a9a" stroke-width="1" fill="none"/>
<path d="M273.7 355.7 h1.6" stroke="#9a9a9a" stroke-width="0.8"/>
<text x="269.4" y="359.1" font-size="8.3" text-anchor="end" font-weight="normal" fill="#1a1a1a" >1200</text>
<path d="M273.7 337.3 h1.6" stroke="#9a9a9a" stroke-width="0.8"/>
<text x="269.4" y="340.7" font-size="8.3" text-anchor="end" font-weight="normal" fill="#1a1a1a" >1400</text>
<path d="M273.7 318.9 h1.6" stroke="#9a9a9a" stroke-width="0.8"/>
<text x="269.4" y="322.3" font-size="8.3" text-anchor="end" font-weight="normal" fill="#1a1a1a" >1600</text>
<path d="M273.7 300.5 h1.6" stroke="#9a9a9a" stroke-width="0.8"/>
<text x="269.4" y="303.9" font-size="8.3" text-anchor="end" font-weight="normal" fill="#1a1a1a" >1800</text>
<path d="M273.7 282.1 h1.6" stroke="#9a9a9a" stroke-width="0.8"/>
<text x="269.4" y="285.5" font-size="8.3" text-anchor="end" font-weight="normal" fill="#1a1a1a" >2000</text>
<path d="M273.7 263.7 h1.6" stroke="#9a9a9a" stroke-width="0.8"/>
<text x="269.4" y="267.1" font-size="8.3" text-anchor="end" font-weight="normal" fill="#1a1a1a" >2200</text>
<path d="M273.7 245.3 h1.6" stroke="#9a9a9a" stroke-width="0.8"/>
<text x="269.4" y="248.7" font-size="8.3" text-anchor="end" font-weight="normal" fill="#1a1a1a" >2400</text>
<path d="M273.7 226.9 h1.6" stroke="#9a9a9a" stroke-width="0.8"/>
<text x="269.4" y="230.3" font-size="8.3" text-anchor="end" font-weight="normal" fill="#1a1a1a" >2600</text>
<path d="M273.7 355.7 v-1.6" stroke="#9a9a9a" stroke-width="0.8"/>
<text x="273.7" y="366.2" font-size="8.3" text-anchor="middle" font-weight="normal" fill="#1a1a1a" >0</text>
<path d="M316.2 355.7 v-1.6" stroke="#9a9a9a" stroke-width="0.8"/>
<text x="316.2" y="366.2" font-size="8.3" text-anchor="middle" font-weight="normal" fill="#1a1a1a" >5</text>
<path d="M358.8 355.7 v-1.6" stroke="#9a9a9a" stroke-width="0.8"/>
<text x="358.8" y="366.2" font-size="8.3" text-anchor="middle" font-weight="normal" fill="#1a1a1a" >10</text>
<path d="M401.3 355.7 v-1.6" stroke="#9a9a9a" stroke-width="0.8"/>
<text x="401.3" y="366.2" font-size="8.3" text-anchor="middle" font-weight="normal" fill="#1a1a1a" >15</text>
<path d="M443.9 355.7 v-1.6" stroke="#9a9a9a" stroke-width="0.8"/>
<text x="443.9" y="366.2" font-size="8.3" text-anchor="middle" font-weight="normal" fill="#1a1a1a" >20</text>
<text x="357.9" y="381.7" font-size="8.45" text-anchor="middle" font-weight="normal" fill="#1a1a1a" >Doxorubicin dose [µM]</text>
<text x="0" y="0" font-size="8.35" text-anchor="middle" fill="#1a1a1a" transform="translate(230.2,287.7) rotate(-90)">Intensity weighted mean</text>
<text x="0" y="0" font-size="8.35" text-anchor="middle" fill="#1a1a1a" transform="translate(240.5,287.7) rotate(-90)">lifetime (ps)</text>
<polyline points="273.7,252.8 275.2,255.0 281.4,262.0 289.0,264.7 350.3,276.4 426.9,286.2" fill="none" stroke="#333333" stroke-width="1.0"/>
<polyline points="273.7,240.2 275.2,243.7 281.4,251.4 289.0,255.9 350.3,279.0 426.9,292.3" fill="none" stroke="#dc3cdc" stroke-width="1.0"/>
<circle cx="273.7" cy="252.8" r="1.6" fill="none" stroke="#333333" stroke-width="0.9"/>
<circle cx="275.2" cy="255.0" r="1.6" fill="none" stroke="#333333" stroke-width="0.9"/>
<circle cx="281.4" cy="262.0" r="1.6" fill="none" stroke="#333333" stroke-width="0.9"/>
<circle cx="289.0" cy="264.7" r="1.6" fill="none" stroke="#333333" stroke-width="0.9"/>
<circle cx="350.3" cy="276.4" r="1.6" fill="none" stroke="#333333" stroke-width="0.9"/>
<circle cx="426.9" cy="286.2" r="1.6" fill="none" stroke="#333333" stroke-width="0.9"/>
<circle cx="273.7" cy="240.2" r="1.6" fill="none" stroke="#dc3cdc" stroke-width="0.9"/>
<circle cx="275.2" cy="243.7" r="1.6" fill="none" stroke="#dc3cdc" stroke-width="0.9"/>
<circle cx="281.4" cy="251.4" r="1.6" fill="none" stroke="#dc3cdc" stroke-width="0.9"/>
<circle cx="289.0" cy="255.9" r="1.6" fill="none" stroke="#dc3cdc" stroke-width="0.9"/>
<circle cx="350.3" cy="279.0" r="1.6" fill="none" stroke="#dc3cdc" stroke-width="0.9"/>
<circle cx="426.9" cy="292.3" r="1.6" fill="none" stroke="#dc3cdc" stroke-width="0.9"/>
<path d="M280.1 332.0 H295.4" stroke="#333333" stroke-width="1"/>
<circle cx="287.8" cy="332.0" r="1.8" fill="none" stroke="#333333" stroke-width="0.9"/>
<text x="299.3" y="334.5" font-size="7.0" text-anchor="start" font-weight="normal" fill="#1a1a1a" >TCSPC multiphoton microscope (no BT)</text>
<path d="M280.1 341.6 H295.4" stroke="#dc3cdc" stroke-width="1"/>
<circle cx="287.8" cy="341.6" r="1.8" fill="none" stroke="#dc3cdc" stroke-width="0.9"/>
<text x="299.3" y="344.1" font-size="7.0" text-anchor="start" font-weight="normal" fill="#1a1a1a" >TCSPC confocal endomicroscope (BT)</text>
<path d="M507.3 219.9 V355.2 H677.0" stroke="#9a9a9a" stroke-width="1" fill="none"/>
<path d="M507.3 355.2 h1.6" stroke="#9a9a9a" stroke-width="0.8"/>
<text x="503.0" y="358.6" font-size="8.3" text-anchor="end" font-weight="normal" fill="#1a1a1a" >1200</text>
<path d="M507.3 335.9 h1.6" stroke="#9a9a9a" stroke-width="0.8"/>
<text x="503.0" y="339.3" font-size="8.3" text-anchor="end" font-weight="normal" fill="#1a1a1a" >1400</text>
<path d="M507.3 316.5 h1.6" stroke="#9a9a9a" stroke-width="0.8"/>
<text x="503.0" y="319.9" font-size="8.3" text-anchor="end" font-weight="normal" fill="#1a1a1a" >1600</text>
<path d="M507.3 297.2 h1.6" stroke="#9a9a9a" stroke-width="0.8"/>
<text x="503.0" y="300.6" font-size="8.3" text-anchor="end" font-weight="normal" fill="#1a1a1a" >1800</text>
<path d="M507.3 277.9 h1.6" stroke="#9a9a9a" stroke-width="0.8"/>
<text x="503.0" y="281.3" font-size="8.3" text-anchor="end" font-weight="normal" fill="#1a1a1a" >2000</text>
<path d="M507.3 258.6 h1.6" stroke="#9a9a9a" stroke-width="0.8"/>
<text x="503.0" y="262.0" font-size="8.3" text-anchor="end" font-weight="normal" fill="#1a1a1a" >2200</text>
<path d="M507.3 239.2 h1.6" stroke="#9a9a9a" stroke-width="0.8"/>
<text x="503.0" y="242.6" font-size="8.3" text-anchor="end" font-weight="normal" fill="#1a1a1a" >2400</text>
<path d="M507.3 219.9 h1.6" stroke="#9a9a9a" stroke-width="0.8"/>
<text x="503.0" y="223.3" font-size="8.3" text-anchor="end" font-weight="normal" fill="#1a1a1a" >2600</text>
<path d="M507.3 355.2 v-1.6" stroke="#9a9a9a" stroke-width="0.8"/>
<text x="507.3" y="365.7" font-size="8.3" text-anchor="middle" font-weight="normal" fill="#1a1a1a" >0</text>
<path d="M549.7 355.2 v-1.6" stroke="#9a9a9a" stroke-width="0.8"/>
<text x="549.7" y="365.7" font-size="8.3" text-anchor="middle" font-weight="normal" fill="#1a1a1a" >5</text>
<path d="M592.1 355.2 v-1.6" stroke="#9a9a9a" stroke-width="0.8"/>
<text x="592.1" y="365.7" font-size="8.3" text-anchor="middle" font-weight="normal" fill="#1a1a1a" >10</text>
<path d="M634.6 355.2 v-1.6" stroke="#9a9a9a" stroke-width="0.8"/>
<text x="634.6" y="365.7" font-size="8.3" text-anchor="middle" font-weight="normal" fill="#1a1a1a" >15</text>
<path d="M677.0 355.2 v-1.6" stroke="#9a9a9a" stroke-width="0.8"/>
<text x="677.0" y="365.7" font-size="8.3" text-anchor="middle" font-weight="normal" fill="#1a1a1a" >20</text>
<text x="591.2" y="381.2" font-size="8.45" text-anchor="middle" font-weight="normal" fill="#1a1a1a" >Doxorubicin dose [µM]</text>
<text x="0" y="0" font-size="8.35" text-anchor="middle" fill="#1a1a1a" transform="translate(463.8,286.6) rotate(-90)">Intensity weighted mean</text>
<text x="0" y="0" font-size="8.35" text-anchor="middle" fill="#1a1a1a" transform="translate(474.1,286.6) rotate(-90)">lifetime (ps)</text>
<polyline points="507.3,233.0 508.8,237.0 514.9,244.8 522.6,248.6 583.7,273.2 660.0,287.8" fill="none" stroke="#dc3cdc" stroke-width="1.0"/>
<polyline points="507.3,227.9 508.8,228.6 514.9,230.1 522.6,232.8 583.7,239.5 660.0,246.1" fill="none" stroke="#30d030" stroke-width="1.0"/>
<polyline points="507.3,233.6 508.8,236.3 514.9,243.4 522.6,247.6 583.7,265.4 660.0,281.7" fill="none" stroke="#2020d0" stroke-width="1.0"/>
<polyline points="507.3,232.1 508.8,232.5 514.9,233.7 522.6,234.9 583.7,242.8 660.0,250.7" fill="none" stroke="#e03020" stroke-width="1.0"/>
<polyline points="507.3,231.0 508.8,231.5 514.9,232.0 522.6,233.0 583.7,237.8 660.0,243.2" fill="none" stroke="#e03020" stroke-width="0.9" stroke-dasharray="3 1.5 0.7 1.5" opacity="0.85"/>
<polyline points="507.3,233.0 508.8,234.0 514.9,236.9 522.6,239.2 583.7,256.6 660.0,271.5" fill="none" stroke="#e03020" stroke-width="0.9" stroke-dasharray="3 1.5 0.7 1.5" opacity="0.85"/>
<polyline points="507.3,233.5 508.8,236.0 514.9,242.0 522.6,246.5 583.7,261.3 660.0,276.6" fill="none" stroke="#2020d0" stroke-width="0.9" stroke-dasharray="3 1.5 0.7 1.5" opacity="0.85"/>
<polyline points="507.3,233.5 508.8,236.5 514.9,242.5 522.6,247.0 583.7,261.8 660.0,276.6" fill="none" stroke="#dc3cdc" stroke-width="0.9" stroke-dasharray="3 1.5 0.7 1.5" opacity="0.85"/>
<polyline points="507.3,233.5 508.8,237.0 514.9,245.0 522.6,250.6 583.7,275.3 660.0,295.2" fill="none" stroke="#2020d0" stroke-width="0.9" stroke-dasharray="3 1.5 0.7 1.5" opacity="0.85"/>
<polyline points="507.3,233.5 508.8,237.5 514.9,246.5 522.6,251.7 583.7,282.3 660.0,301.1" fill="none" stroke="#dc3cdc" stroke-width="0.9" stroke-dasharray="3 1.5 0.7 1.5" opacity="0.85"/>
<circle cx="507.3" cy="233.0" r="1.6" fill="none" stroke="#dc3cdc" stroke-width="0.9"/>
<circle cx="508.8" cy="237.0" r="1.6" fill="none" stroke="#dc3cdc" stroke-width="0.9"/>
<circle cx="514.9" cy="244.8" r="1.6" fill="none" stroke="#dc3cdc" stroke-width="0.9"/>
<circle cx="522.6" cy="248.6" r="1.6" fill="none" stroke="#dc3cdc" stroke-width="0.9"/>
<circle cx="583.7" cy="273.2" r="1.6" fill="none" stroke="#dc3cdc" stroke-width="0.9"/>
<circle cx="660.0" cy="287.8" r="1.6" fill="none" stroke="#dc3cdc" stroke-width="0.9"/>
<circle cx="507.3" cy="227.9" r="1.6" fill="none" stroke="#30d030" stroke-width="0.9"/>
<circle cx="508.8" cy="228.6" r="1.6" fill="none" stroke="#30d030" stroke-width="0.9"/>
<circle cx="514.9" cy="230.1" r="1.6" fill="none" stroke="#30d030" stroke-width="0.9"/>
<circle cx="522.6" cy="232.8" r="1.6" fill="none" stroke="#30d030" stroke-width="0.9"/>
<circle cx="583.7" cy="239.5" r="1.6" fill="none" stroke="#30d030" stroke-width="0.9"/>
<circle cx="660.0" cy="246.1" r="1.6" fill="none" stroke="#30d030" stroke-width="0.9"/>
<circle cx="507.3" cy="233.6" r="1.6" fill="none" stroke="#2020d0" stroke-width="0.9"/>
<circle cx="508.8" cy="236.3" r="1.6" fill="none" stroke="#2020d0" stroke-width="0.9"/>
<circle cx="514.9" cy="243.4" r="1.6" fill="none" stroke="#2020d0" stroke-width="0.9"/>
<circle cx="522.6" cy="247.6" r="1.6" fill="none" stroke="#2020d0" stroke-width="0.9"/>
<circle cx="583.7" cy="265.4" r="1.6" fill="none" stroke="#2020d0" stroke-width="0.9"/>
<circle cx="660.0" cy="281.7" r="1.6" fill="none" stroke="#2020d0" stroke-width="0.9"/>
<circle cx="507.3" cy="232.1" r="1.6" fill="none" stroke="#e03020" stroke-width="0.9"/>
<circle cx="508.8" cy="232.5" r="1.6" fill="none" stroke="#e03020" stroke-width="0.9"/>
<circle cx="514.9" cy="233.7" r="1.6" fill="none" stroke="#e03020" stroke-width="0.9"/>
<circle cx="522.6" cy="234.9" r="1.6" fill="none" stroke="#e03020" stroke-width="0.9"/>
<circle cx="583.7" cy="242.8" r="1.6" fill="none" stroke="#e03020" stroke-width="0.9"/>
<circle cx="660.0" cy="250.7" r="1.6" fill="none" stroke="#e03020" stroke-width="0.9"/>
<path d="M521.2 315.4 H534.4" stroke="#dc3cdc" stroke-width="1"/>
<circle cx="527.8" cy="315.4" r="1.8" fill="none" stroke="#dc3cdc" stroke-width="0.9"/>
<text x="537.8" y="317.9" font-size="7.0" text-anchor="start" font-weight="normal" fill="#1a1a1a" >Measured - CEM H1-EGFP</text>
<path d="M521.2 325.3 H534.4" stroke="#30d030" stroke-width="1"/>
<circle cx="527.8" cy="325.3" r="1.8" fill="none" stroke="#30d030" stroke-width="0.9"/>
<text x="537.8" y="327.8" font-size="7.0" text-anchor="start" font-weight="normal" fill="#1a1a1a" >Measured - CEM EGFP</text>
<path d="M521.2 335.3 H534.4" stroke="#2020d0" stroke-width="1"/>
<circle cx="527.8" cy="335.3" r="1.8" fill="none" stroke="#2020d0" stroke-width="0.9"/>
<text x="537.8" y="337.8" font-size="7.0" text-anchor="start" font-weight="normal" fill="#1a1a1a" >Simulation - GFP-H1(L) + GFP-H1(S) + DoxBT</text>
<path d="M521.2 344.7 H534.4" stroke="#e03020" stroke-width="1"/>
<circle cx="527.8" cy="344.7" r="1.8" fill="none" stroke="#e03020" stroke-width="0.9"/>
<text x="537.8" y="347.2" font-size="7.0" text-anchor="start" font-weight="normal" fill="#1a1a1a" >Simulation - GFP-H1(L) + DoxBT</text>
</svg>
</body></html>
